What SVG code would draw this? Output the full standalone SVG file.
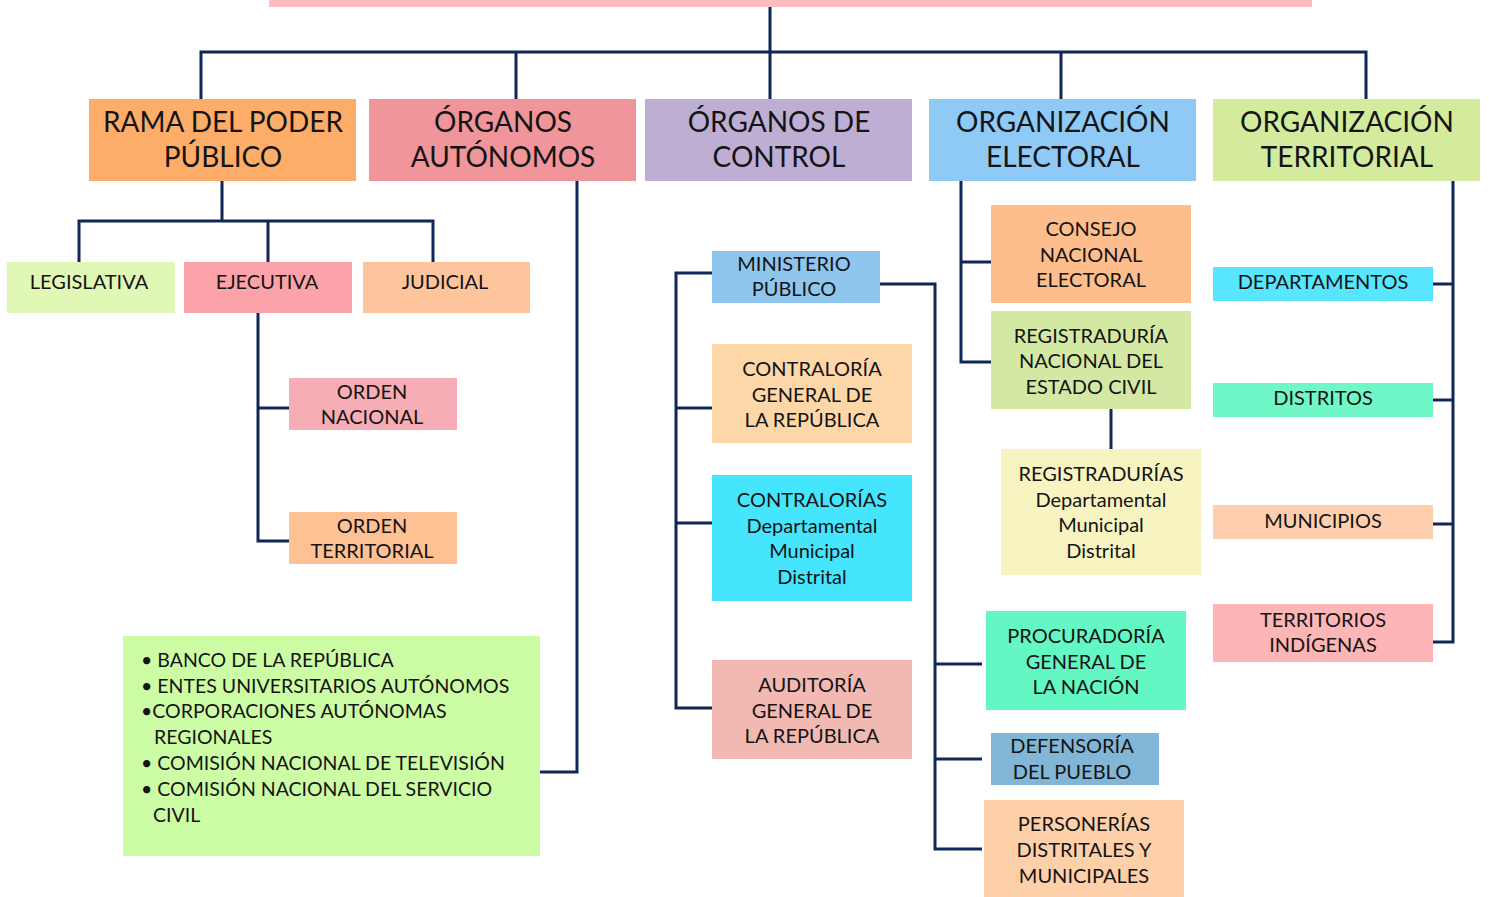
<svg xmlns="http://www.w3.org/2000/svg" width="1489" height="897" viewBox="0 0 1489 897">
<style>
text{font-family:Lato,"Open Sans","Liberation Sans",sans-serif;fill:#141414;text-anchor:middle}
.t1{font-size:28px}
.t2{font-size:20px}
.tl{font-size:19.5px;text-anchor:start}
.c{fill:none;stroke:#0f2858;stroke-width:3}
</style>
<rect x="0" y="0" width="1489" height="897" fill="#ffffff"/>
<g id="top"><rect x="269" y="0" width="1043" height="7" fill="#fdbcbd"/></g>
<g id="connectors" class="c">
<path d="M770,7V52M201,99V52H1366V99M516,52V99M770,52V99M1061,52V99"/>
<path d="M222,181V221M79,262V221H433V262M268,221V262"/>
<path d="M258,313V541H289M258,408H289"/>
<path d="M577,181V772H540"/>
<path d="M712,273H676V708H712M676,408H712M676,523H712"/>
<path d="M880,284H935V849H982M935,664H982M935,759H982"/>
<path d="M961,181V362H991M961,262H991"/>
<path d="M1111,409V449"/>
<path d="M1453,181V642H1433M1433,284H1453M1433,400H1453M1433,524H1453"/>
</g>
<g id="rama"><rect x="89" y="99" width="267" height="82" fill="#fdad68"/><text class="t1" x="223" y="132">RAMA DEL PODER</text><text class="t1" x="223" y="167">PÚBLICO</text></g>
<g id="autonomos"><rect x="369" y="99" width="267" height="82" fill="#f09599"/><text class="t1" x="503" y="132">ÓRGANOS</text><text class="t1" x="503" y="167">AUTÓNOMOS</text></g>
<g id="control"><rect x="645" y="99" width="267" height="82" fill="#bfaed4"/><text class="t1" x="779" y="132">ÓRGANOS DE</text><text class="t1" x="779" y="167">CONTROL</text></g>
<g id="electoral"><rect x="929" y="99" width="267" height="82" fill="#8ecaf5"/><text class="t1" x="1063" y="132">ORGANIZACIÓN</text><text class="t1" x="1063" y="167">ELECTORAL</text></g>
<g id="territorial"><rect x="1213" y="99" width="267" height="82" fill="#d4eb9e"/><text class="t1" x="1347" y="132">ORGANIZACIÓN</text><text class="t1" x="1347" y="167">TERRITORIAL</text></g>
<g id="legislativa"><rect x="7" y="262" width="168" height="51" fill="#e1f7b5"/><text class="t2" x="89" y="289">LEGISLATIVA</text></g>
<g id="ejecutiva"><rect x="184" y="262" width="168" height="51" fill="#fca3a9"/><text class="t2" x="267" y="289">EJECUTIVA</text></g>
<g id="judicial"><rect x="363" y="262" width="167" height="51" fill="#fec59d"/><text class="t2" x="445" y="289">JUDICIAL</text></g>
<g id="orden-nacional"><rect x="289" y="378" width="168" height="52" fill="#f7adb5"/><text class="t2" x="372" y="399">ORDEN</text><text class="t2" x="372" y="424">NACIONAL</text></g>
<g id="orden-territorial"><rect x="289" y="512" width="168" height="52" fill="#fec194"/><text class="t2" x="372" y="533">ORDEN</text><text class="t2" x="372" y="558">TERRITORIAL</text></g>
<g id="lista-autonomos"><rect x="123" y="636" width="417" height="220" fill="#ccfca4"/>
<text class="tl" x="141" y="667">• BANCO DE LA REPÚBLICA</text>
<text class="tl" x="141" y="693">• ENTES UNIVERSITARIOS AUTÓNOMOS</text>
<text class="tl" x="141" y="718">•CORPORACIONES AUTÓNOMAS</text>
<text class="tl" x="154" y="744">REGIONALES</text>
<text class="tl" x="141" y="770">• COMISIÓN NACIONAL DE TELEVISIÓN</text>
<text class="tl" x="141" y="796">• COMISIÓN NACIONAL DEL SERVICIO</text>
<text class="tl" x="153" y="822">CIVIL</text></g>
<g id="ministerio"><rect x="712" y="251" width="168" height="52" fill="#8ec6ee"/><text class="t2" x="794" y="271">MINISTERIO</text><text class="t2" x="794" y="296">PÚBLICO</text></g>
<g id="contraloria"><rect x="712" y="344" width="200" height="99" fill="#fed7a9"/><text class="t2" x="812" y="376">CONTRALORÍA</text><text class="t2" x="812" y="402">GENERAL DE</text><text class="t2" x="812" y="427">LA REPÚBLICA</text></g>
<g id="contralorias"><rect x="712" y="475" width="200" height="126" fill="#45e5fd"/><text class="t2" x="812" y="507">CONTRALORÍAS</text><text class="t2" x="812" y="533">Departamental</text><text class="t2" x="812" y="558">Municipal</text><text class="t2" x="812" y="584">Distrital</text></g>
<g id="auditoria"><rect x="712" y="660" width="200" height="99" fill="#f2b9b3"/><text class="t2" x="812" y="692">AUDITORÍA</text><text class="t2" x="812" y="718">GENERAL DE</text><text class="t2" x="812" y="743">LA REPÚBLICA</text></g>
<g id="procuraduria"><rect x="986" y="611" width="200" height="99" fill="#63f7c3"/><text class="t2" x="1086" y="643">PROCURADORÍA</text><text class="t2" x="1086" y="669">GENERAL DE</text><text class="t2" x="1086" y="694">LA NACIÓN</text></g>
<g id="defensoria"><rect x="991" y="733" width="168" height="52" fill="#81b6d6"/><text class="t2" x="1072" y="753">DEFENSORÍA</text><text class="t2" x="1072" y="779">DEL PUEBLO</text></g>
<g id="personerias"><rect x="984" y="800" width="200" height="97" fill="#fed0aa"/><text class="t2" x="1084" y="831">PERSONERÍAS</text><text class="t2" x="1084" y="857">DISTRITALES Y</text><text class="t2" x="1084" y="883">MUNICIPALES</text></g>
<g id="consejo"><rect x="991" y="205" width="200" height="98" fill="#fdbd8c"/><text class="t2" x="1091" y="236">CONSEJO</text><text class="t2" x="1091" y="262">NACIONAL</text><text class="t2" x="1091" y="287">ELECTORAL</text></g>
<g id="registraduria"><rect x="991" y="311" width="200" height="98" fill="#d3e9a3"/><text class="t2" x="1091" y="343">REGISTRADURÍA</text><text class="t2" x="1091" y="368">NACIONAL DEL</text><text class="t2" x="1091" y="394">ESTADO CIVIL</text></g>
<g id="registradurias"><rect x="1001" y="449" width="200" height="126" fill="#f7f4c1"/><text class="t2" x="1101" y="481">REGISTRADURÍAS</text><text class="t2" x="1101" y="507">Departamental</text><text class="t2" x="1101" y="532">Municipal</text><text class="t2" x="1101" y="558">Distrital</text></g>
<g id="departamentos"><rect x="1213" y="267" width="220" height="34" fill="#57e6fe"/><text class="t2" x="1323" y="289">DEPARTAMENTOS</text></g>
<g id="distritos"><rect x="1213" y="383" width="220" height="34" fill="#6ff7c7"/><text class="t2" x="1323" y="405">DISTRITOS</text></g>
<g id="municipios"><rect x="1213" y="505" width="220" height="34" fill="#fecfac"/><text class="t2" x="1323" y="528">MUNICIPIOS</text></g>
<g id="territorios"><rect x="1213" y="604" width="220" height="58" fill="#fdb5b5"/><text class="t2" x="1323" y="627">TERRITORIOS</text><text class="t2" x="1323" y="652">INDÍGENAS</text></g>
</svg>
